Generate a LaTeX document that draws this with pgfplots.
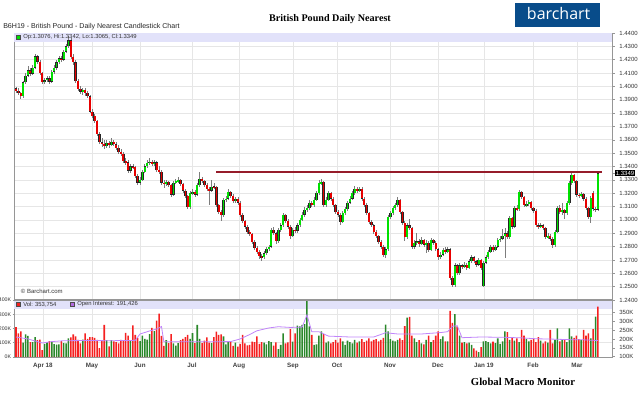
\documentclass[border=0pt]{standalone}
\usepackage{pgfplots}
\pgfplotsset{compat=1.18}
\usepackage{pgfplotstable}
\usepackage{fontspec}
\setmainfont{Liberation Sans}
\newfontfamily\serifb{Liberation Serif}
\newfontfamily\logof{Open Sans}
\definecolor{upg}{RGB}{0,225,0}
\definecolor{dnr}{RGB}{232,0,0}
\definecolor{wick}{RGB}{125,125,125}
\definecolor{vgreen}{RGB}{42,135,42}
\definecolor{vred}{RGB}{245,32,32}
\definecolor{band}{RGB}{226,226,250}
\definecolor{oi}{RGB}{192,132,250}
\definecolor{res}{RGB}{150,28,42}
\definecolor{logo}{RGB}{8,76,138}
\definecolor{gridc}{RGB}{230,230,230}
\definecolor{axc}{RGB}{150,150,150}
\newcommand\tl{\fontsize{4.5}{5}\selectfont}

\pgfplotstableread{
i o h l c u v w
0 1.3985 1.3995 1.3950 1.3965 0 210 0
1 1.3965 1.3985 1.3935 1.3950 0 165 0
2 1.3950 1.3960 1.3905 1.3925 0 180 0
3 1.3925 1.4040 1.3915 1.4030 1 100 1
4 1.4030 1.4100 1.4015 1.4080 1 158 1
5 1.4080 1.4150 1.4070 1.4120 1 148 1
6 1.4120 1.4135 1.4080 1.4095 0 105 0
7 1.4095 1.4160 1.4085 1.4140 1 105 1
8 1.4140 1.4240 1.4130 1.4225 1 140 1
9 1.4225 1.4235 1.4170 1.4185 0 118 0
10 1.4185 1.4195 1.4085 1.4100 0 122 0
11 1.4100 1.4110 1.4015 1.4030 0 48 0
12 1.4030 1.4065 1.4015 1.4045 1 92 1
13 1.4045 1.4080 1.4030 1.4060 1 102 1
14 1.4060 1.4075 1.4020 1.4035 0 112 0
15 1.4035 1.4125 1.4025 1.4110 1 108 1
16 1.4110 1.4160 1.4095 1.4140 1 90 1
17 1.4140 1.4195 1.4125 1.4180 1 86 1
18 1.4180 1.4230 1.4170 1.4210 1 88 1
19 1.4210 1.4225 1.4185 1.4200 0 112 0
20 1.4200 1.4275 1.4190 1.4260 1 98 1
21 1.4260 1.4320 1.4250 1.4300 1 96 1
22 1.4300 1.4375 1.4290 1.4345 1 130 1
23 1.4345 1.4360 1.4205 1.4220 0 138 0
24 1.4220 1.4240 1.4160 1.4180 0 158 0
25 1.4180 1.4195 1.4025 1.4040 0 145 0
26 1.4040 1.4055 1.3965 1.3980 0 120 0
27 1.3980 1.4000 1.3945 1.3960 0 95 0
28 1.3960 1.3990 1.3935 1.3975 1 122 1
29 1.3975 1.3985 1.3930 1.3950 0 165 0
30 1.3950 1.3965 1.3910 1.3925 0 128 0
31 1.3925 1.3935 1.3800 1.3810 0 140 0
32 1.3810 1.3830 1.3765 1.3780 0 140 0
33 1.3780 1.3795 1.3725 1.3740 0 135 0
34 1.3740 1.3750 1.3625 1.3640 0 120 0
35 1.3640 1.3660 1.3565 1.3580 0 62 0
36 1.3580 1.3610 1.3545 1.3570 0 118 0
37 1.3570 1.3595 1.3530 1.3555 0 225 0
38 1.3555 1.3600 1.3540 1.3575 1 118 1
39 1.3575 1.3590 1.3535 1.3560 0 75 0
40 1.3560 1.3615 1.3550 1.3585 1 118 1
41 1.3585 1.3600 1.3550 1.3565 0 110 0
42 1.3565 1.3580 1.3520 1.3540 0 105 0
43 1.3540 1.3560 1.3495 1.3510 0 95 0
44 1.3510 1.3530 1.3475 1.3495 0 120 0
45 1.3495 1.3505 1.3425 1.3440 0 115 0
46 1.3440 1.3465 1.3410 1.3430 0 170 0
47 1.3430 1.3445 1.3355 1.3370 0 150 0
48 1.3370 1.3415 1.3350 1.3400 1 118 1
49 1.3400 1.3420 1.3380 1.3395 0 222 0
50 1.3395 1.3405 1.3315 1.3330 0 155 0
51 1.3330 1.3345 1.3260 1.3280 0 135 0
52 1.3280 1.3320 1.3265 1.3300 1 112 1
53 1.3300 1.3375 1.3290 1.3360 1 150 1
54 1.3360 1.3420 1.3350 1.3400 1 128 1
55 1.3400 1.3450 1.3390 1.3425 1 122 1
56 1.3425 1.3465 1.3410 1.3435 1 160 1
57 1.3435 1.3450 1.3405 1.3420 0 205 0
58 1.3420 1.3445 1.3400 1.3430 1 182 1
59 1.3430 1.3440 1.3360 1.3375 0 255 0
60 1.3375 1.3400 1.3345 1.3360 0 305 0
61 1.3360 1.3375 1.3265 1.3280 0 148 0
62 1.3280 1.3300 1.3240 1.3270 0 78 0
63 1.3270 1.3300 1.3255 1.3285 1 118 1
64 1.3285 1.3295 1.3245 1.3260 0 98 0
65 1.3260 1.3270 1.3175 1.3190 0 160 0
66 1.3190 1.3295 1.3180 1.3280 1 96 1
67 1.3280 1.3310 1.3270 1.3290 1 80 1
68 1.3290 1.3320 1.3280 1.3300 1 98 1
69 1.3300 1.3310 1.3255 1.3270 0 118 0
70 1.3270 1.3280 1.3205 1.3220 0 128 0
71 1.3220 1.3235 1.3165 1.3180 0 140 0
72 1.3180 1.3190 1.3080 1.3095 0 155 0
73 1.3095 1.3215 1.3085 1.3200 1 128 1
74 1.3200 1.3230 1.3185 1.3210 1 168 1
75 1.3210 1.3225 1.3175 1.3190 0 98 0
76 1.3190 1.3275 1.3180 1.3260 1 225 1
77 1.3260 1.3362 1.3250 1.3310 1 128 1
78 1.3310 1.3325 1.3275 1.3290 0 98 0
79 1.3290 1.3300 1.3245 1.3260 0 115 0
80 1.3260 1.3275 1.3215 1.3230 0 138 0
81 1.3230 1.3245 1.3110 1.3220 0 100 0
82 1.3220 1.3300 1.3210 1.3250 1 98 1
83 1.3250 1.3275 1.3230 1.3245 0 140 0
84 1.3245 1.3255 1.3095 1.3110 0 178 0
85 1.3110 1.3120 1.3045 1.3060 0 155 0
86 1.3060 1.3075 1.2990 1.3035 0 158 0
87 1.3035 1.3165 1.3025 1.3150 1 145 1
88 1.3150 1.3180 1.3135 1.3160 1 88 1
89 1.3160 1.3230 1.3150 1.3210 1 105 1
90 1.3210 1.3220 1.3165 1.3180 0 105 0
91 1.3180 1.3195 1.3125 1.3140 0 78 0
92 1.3140 1.3175 1.3125 1.3160 1 100 1
93 1.3160 1.3170 1.3115 1.3130 0 72 0
94 1.3130 1.3140 1.3020 1.3035 0 92 0
95 1.3035 1.3050 1.2975 1.2990 0 155 0
96 1.2990 1.3000 1.2935 1.2950 0 95 0
97 1.2950 1.2965 1.2895 1.2910 0 82 0
98 1.2910 1.2925 1.2880 1.2895 0 85 0
99 1.2895 1.2905 1.2820 1.2835 0 108 0
100 1.2835 1.2850 1.2775 1.2790 0 105 0
101 1.2790 1.2805 1.2745 1.2760 0 145 0
102 1.2760 1.2775 1.2710 1.2730 0 92 0
103 1.2730 1.2745 1.2690 1.2720 0 105 0
104 1.2720 1.2765 1.2705 1.2750 1 100 1
105 1.2750 1.2800 1.2735 1.2785 1 88 1
106 1.2785 1.2815 1.2770 1.2800 1 112 1
107 1.2800 1.2940 1.2790 1.2925 1 105 1
108 1.2925 1.2945 1.2885 1.2900 0 80 0
109 1.2900 1.2910 1.2820 1.2840 0 102 0
110 1.2840 1.2940 1.2830 1.2925 1 55 1
111 1.2925 1.2975 1.2910 1.2960 1 85 1
112 1.2960 1.3050 1.2950 1.3035 1 165 1
113 1.3035 1.3045 1.2975 1.2990 0 95 0
114 1.2990 1.3005 1.2935 1.2950 0 102 0
115 1.2950 1.2960 1.2860 1.2880 0 195 0
116 1.2880 1.2940 1.2870 1.2925 1 108 1
117 1.2925 1.2945 1.2900 1.2920 0 165 0
118 1.2920 1.2975 1.2905 1.2960 1 220 1
119 1.2960 1.3015 1.2950 1.3000 1 215 1
120 1.3000 1.3060 1.2990 1.3040 1 225 1
121 1.3040 1.3095 1.3025 1.3075 1 230 1
122 1.3075 1.3110 1.3060 1.3090 1 395 1
123 1.3090 1.3150 1.3075 1.3130 1 215 1
124 1.3130 1.3145 1.3095 1.3110 0 155 0
125 1.3110 1.3170 1.3100 1.3150 1 85 1
126 1.3150 1.3215 1.3140 1.3200 1 88 1
127 1.3200 1.3298 1.3190 1.3280 1 150 1
128 1.3270 1.3305 1.3260 1.3285 1 180 1
129 1.3285 1.3295 1.3095 1.3110 0 160 0
130 1.3110 1.3170 1.3100 1.3150 1 100 1
131 1.3150 1.3215 1.3140 1.3200 1 110 1
132 1.3200 1.3210 1.3145 1.3160 0 95 0
133 1.3160 1.3170 1.3095 1.3110 0 105 0
134 1.3110 1.3120 1.3045 1.3060 0 120 0
135 1.3060 1.3075 1.3025 1.3040 0 100 0
136 1.3040 1.3050 1.2965 1.2985 0 130 0
137 1.2985 1.3065 1.2975 1.3050 1 110 1
138 1.3050 1.3095 1.3040 1.3080 1 85 1
139 1.3080 1.3145 1.3070 1.3130 1 115 1
140 1.3130 1.3180 1.3120 1.3160 1 105 1
141 1.3160 1.3215 1.3150 1.3200 1 95 1
142 1.3200 1.3255 1.3190 1.3235 1 120 1
143 1.3235 1.3250 1.3205 1.3220 0 100 0
144 1.3220 1.3250 1.3210 1.3235 1 110 1
145 1.3235 1.3245 1.3145 1.3160 0 125 0
146 1.3160 1.3175 1.3095 1.3110 0 105 0
147 1.3110 1.3125 1.3035 1.3050 0 115 0
148 1.3050 1.3060 1.2970 1.2985 0 130 0
149 1.2985 1.3000 1.2945 1.2960 0 110 0
150 1.2960 1.2970 1.2895 1.2910 0 120 0
151 1.2910 1.2925 1.2865 1.2880 0 125 0
152 1.2880 1.2890 1.2820 1.2835 0 110 0
153 1.2835 1.2850 1.2785 1.2800 0 120 0
154 1.2800 1.2815 1.2720 1.2735 0 135 0
155 1.2735 1.2795 1.2715 1.2780 1 228 1
156 1.2780 1.3035 1.2770 1.3020 1 180 1
157 1.3020 1.3070 1.3005 1.3050 1 125 1
158 1.3050 1.3105 1.3035 1.3090 1 115 1
159 1.3090 1.3130 1.3075 1.3110 1 110 1
160 1.3110 1.3170 1.3095 1.3150 1 120 1
161 1.3150 1.3160 1.3045 1.3060 0 130 0
162 1.3060 1.3070 1.2965 1.2980 0 118 0
163 1.2980 1.2990 1.2840 1.2870 0 216 0
164 1.2870 1.2975 1.2860 1.2960 1 277 1
165 1.2960 1.3005 1.2925 1.2940 0 282 0
166 1.2940 1.2950 1.2785 1.2800 0 150 0
167 1.2800 1.2850 1.2785 1.2830 1 130 1
168 1.2830 1.2900 1.2815 1.2840 1 105 1
169 1.2840 1.2855 1.2800 1.2820 0 118 0
170 1.2820 1.2870 1.2810 1.2850 1 95 1
171 1.2850 1.2860 1.2800 1.2815 0 88 0
172 1.2815 1.2850 1.2750 1.2830 1 120 1
173 1.2830 1.2840 1.2760 1.2775 0 150 0
174 1.2775 1.2865 1.2765 1.2850 1 105 1
175 1.2850 1.2860 1.2815 1.2830 0 118 0
176 1.2830 1.2845 1.2765 1.2780 0 150 0
177 1.2780 1.2790 1.2700 1.2720 0 180 0
178 1.2720 1.2760 1.2705 1.2740 1 125 1
179 1.2740 1.2790 1.2730 1.2775 1 145 1
180 1.2775 1.2800 1.2745 1.2760 0 110 0
181 1.2760 1.2795 1.2750 1.2780 1 110 1
182 1.2780 1.2790 1.2550 1.2565 0 323 0
183 1.2565 1.2580 1.2495 1.2510 0 240 0
184 1.2510 1.2675 1.2500 1.2660 1 300 1
185 1.2660 1.2670 1.2585 1.2600 0 215 0
186 1.2600 1.2675 1.2590 1.2660 1 150 1
187 1.2660 1.2670 1.2635 1.2650 0 100 0
188 1.2650 1.2685 1.2640 1.2665 1 105 1
189 1.2665 1.2675 1.2625 1.2640 0 95 0
190 1.2640 1.2705 1.2630 1.2690 1 100 1
191 1.2690 1.2735 1.2680 1.2720 1 85 1
192 1.2720 1.2730 1.2675 1.2690 0 60 0
193 1.2690 1.2700 1.2650 1.2665 0 45 0
194 1.2665 1.2715 1.2655 1.2700 1 35 1
195 1.2700 1.2710 1.2625 1.2640 0 70 0
196 1.2505 1.2695 1.2497 1.2680 1 110 1
197 1.2680 1.2735 1.2670 1.2720 1 112 1
198 1.2720 1.2775 1.2710 1.2760 1 105 1
199 1.2760 1.2815 1.2750 1.2800 1 95 1
200 1.2800 1.2810 1.2760 1.2775 0 108 0
201 1.2775 1.2815 1.2765 1.2800 1 98 1
202 1.2800 1.2865 1.2790 1.2850 1 130 1
203 1.2850 1.2880 1.2835 1.2860 1 92 1
204 1.2860 1.2930 1.2850 1.2880 1 110 1
205 1.2880 1.2940 1.2715 1.2900 1 180 1
206 1.2900 1.2920 1.2855 1.2870 0 175 0
207 1.2870 1.3030 1.2860 1.3015 1 120 1
208 1.3015 1.3025 1.2935 1.2950 0 140 0
209 1.2950 1.3105 1.2940 1.3090 1 115 1
210 1.3090 1.3110 1.3065 1.3080 0 130 0
211 1.3080 1.3225 1.3070 1.3210 1 105 1
212 1.3210 1.3220 1.3155 1.3170 0 190 0
213 1.3170 1.3180 1.3095 1.3110 0 150 0
214 1.3110 1.3140 1.3100 1.3120 1 125 1
215 1.3120 1.3150 1.3105 1.3135 1 110 1
216 1.3135 1.3145 1.3075 1.3090 0 120 0
217 1.3090 1.3100 1.3055 1.3070 0 130 0
218 1.3070 1.3080 1.2945 1.2960 0 105 0
219 1.2960 1.2975 1.2935 1.2950 0 140 0
220 1.2950 1.2975 1.2940 1.2960 1 115 1
221 1.2960 1.2970 1.2925 1.2940 0 95 0
222 1.2940 1.2950 1.2855 1.2870 0 110 0
223 1.2870 1.2900 1.2860 1.2880 1 100 1
224 1.2880 1.2895 1.2845 1.2860 0 190 0
225 1.2860 1.2870 1.2790 1.2810 0 95 0
226 1.2810 1.2925 1.2800 1.2910 1 120 1
227 1.2910 1.3105 1.2900 1.3090 1 200 1
228 1.3090 1.3115 1.3045 1.3060 0 110 0
229 1.3060 1.3130 1.3040 1.3075 1 125 1
230 1.3075 1.3085 1.3010 1.3050 0 118 0
231 1.3050 1.3145 1.3040 1.3127 1 105 1
232 1.3127 1.3290 1.3115 1.3276 1 200 1
233 1.3276 1.3352 1.3265 1.3336 1 145 1
234 1.3336 1.3345 1.3275 1.3290 0 135 0
235 1.3290 1.3300 1.3175 1.3190 0 150 0
236 1.3190 1.3205 1.3165 1.3180 0 125 0
237 1.3180 1.3210 1.3170 1.3195 1 120 1
238 1.3195 1.3205 1.3145 1.3160 0 190 0
239 1.3160 1.3170 1.3075 1.3090 0 150 0
240 1.3090 1.3100 1.3005 1.3020 0 165 0
241 1.3020 1.3180 1.2980 1.3165 1 130 1
242 1.3200 1.3215 1.3070 1.3085 0 195 0
243 1.3085 1.3100 1.3060 1.3076 0 283 1
244 1.3076 1.3352 1.3065 1.3349 1 354 0
}\candles

\pgfplotstableread{
i k
0 211
5 200
11 177
15 185
20 190
30 191
40 190
50 192
52 228
56 245
59 256
61 270
62 184
70 184
80 184
90 185
94 200
98 225
101 246
106 262
110 269
115 265
120 267
122 336
124 241
127 241
131 216
140 211
150 211
155 235
160 228
170 228
178 236
181 241
183 272
185 275
187 207
195 211
205 209
212 206
218 201
225 199
232 196
238 195
244 191
}\oit

\pgfplotsset{
  /pgf/number format/assume math mode=true,
  candle/.style={only marks, mark=none, mark size=0pt, forget plot,
    error bars/.cd, y dir=both, y explicit, error mark=none, error mark options={scale=0, draw=none, fill=none}},
  panel/.style={scale only axis, anchor=south west, width=448.5pt, xmin=-0.84, xmax=249.9,
    xtick={11.3,31.9,52.0,73.8,93.5,116.1,134.6,156.8,176.9,196.2,216.8,235.2},
    axis line style={axc}, tick style={axc, line width=0.4pt}, tick align=outside,
    major tick length=2pt, tick label style={font=\tl, text=black!80},
    grid=major, major grid style={gridc, line width=0.5pt}},
}

\begin{document}
\begin{tikzpicture}
\path[use as bounding box] (0,0) rectangle (480pt,297pt);

% upper price panel
\begin{axis}[panel, at={(10.5pt,72pt)}, height=200.25pt,
  ymin=1.24, ymax=1.44, ytick distance=0.01,
  xticklabels={}, xtick style={draw=none},
  ytick pos=right, yticklabel pos=right,
  yticklabel style={/pgf/number format/fixed, /pgf/number format/fixed zerofill, /pgf/number format/precision=4},
  extra y ticks={1.3349},
  extra y tick style={grid=none, yticklabel style={fill=black, text=white, inner sep=0.7pt}},
]
\fill[band] (rel axis cs:0,1) rectangle (rel axis cs:1,{1-9/267});
% wicks
\addplot[candle, error bar style={line width=0.45pt, wick}]
  table[x=i, y expr={0.5*(\thisrow{h}+\thisrow{l})}, y error expr={0.5*(\thisrow{h}-\thisrow{l})}] {\candles};
% body outlines
\addplot[candle, error bar style={line width=1.85pt, black!85}]
  table[x=i, y expr={0.5*(\thisrow{o}+\thisrow{c})}, y error expr={max(0.5*abs(\thisrow{c}-\thisrow{o}),0.0003)}] {\candles};
% green bodies (u = 1)
\addplot[candle, error bar style={line width=1.25pt, upg}]
  table[x=i, y expr={0.5*(\thisrow{o}+\thisrow{c})}, y error expr={\thisrow{u}*max(0.5*abs(\thisrow{c}-\thisrow{o})-0.0002,0.0001)}] {\candles};
% red bodies (u = 0)
\addplot[candle, error bar style={line width=1.25pt, dnr}]
  table[x=i, y expr={0.5*(\thisrow{o}+\thisrow{c})}, y error expr={(1-\thisrow{u})*max(0.5*abs(\thisrow{c}-\thisrow{o})-0.0002,0.0001)}] {\candles};
\addplot[res, line width=1.4pt, forget plot] coordinates {(83.9,1.3358) (245.7,1.3358)};
\end{axis}

% volume panel
\begin{axis}[panel, at={(10.5pt,29.25pt)}, height=42.75pt,
  ymin=0, ymax=400, ytick={0,100,200,300,400}, ytick pos=left,
  yticklabel={\pgfmathprintnumber{\tick}K},
  yticklabel style={inner sep=0pt, font=\fontsize{3.9}{4.5}\selectfont},
  ytick style={/pgfplots/major tick length=1pt},
  xtick style={draw=none},
  xticklabels={Apr 18,May,Jun,Jul,Aug,Sep,Oct,Nov,Dec,Jan 19,Feb,Mar},
  xticklabel style={font=\bfseries\fontsize{4.7}{5}\selectfont, text=black!75, yshift=1pt},
]
\fill[band] (rel axis cs:0,1) rectangle (rel axis cs:1,{1-9/57});
\addplot[ybar, bar width=1.15pt, bar shift=0pt, fill=vgreen, draw=none, forget plot]
  table[x=i, y expr={\thisrow{w}*\thisrow{v}}] {\candles};
\addplot[ybar, bar width=1.15pt, bar shift=0pt, fill=vred, draw=none, forget plot]
  table[x=i, y expr={(1-\thisrow{w})*\thisrow{v}}] {\candles};
\end{axis}

% open interest overlay
\begin{axis}[scale only axis, anchor=south west, at={(10.5pt,29.25pt)}, width=448.5pt, height=42.75pt,
  xmin=-0.84, xmax=249.9, ymin=98, ymax=420,
  axis x line=none, axis y line*=right, axis line style={axc},
  ytick={100,150,200,250,300,350}, yticklabel={\pgfmathprintnumber{\tick}K},
  tick style={axc, line width=0.4pt}, tick align=outside, major tick length=2pt,
  tick label style={font=\tl, text=black!80}]
\addplot[oi, line width=0.6pt, forget plot] table[x=i, y=k] {\oit};
\end{axis}

\draw[axc, line width=1pt] (10.5pt,72pt) -- (459pt,72pt);

% texts
\node[anchor=west, inner sep=0pt, font=\fontsize{5.3}{6}\selectfont, text=black!85] at (2.25pt,277pt) {B6H19 - British Pound - Daily Nearest Candlestick Chart};
\node[inner sep=0pt, font=\serifb\bfseries\fontsize{7.6}{9}\selectfont] at (247.5pt,282.5pt) {British Pound Daily Nearest};
\fill[logo] (386.25pt,276.75pt) rectangle (450pt,294.75pt);
\node[inner sep=0pt, text=white, font=\logof\fontsize{12}{13}\selectfont] at (419pt,286.5pt) {barchart};
\fill[upg, draw=black!70, line width=0.3pt] (12.4pt,267.4pt) rectangle (15.4pt,270.4pt);
\node[anchor=west, inner sep=0pt, font=\fontsize{4.4}{5}\selectfont, text=black!80] at (17.25pt,268.9pt) {Op:1.3076, Hi:1.3342, Lo:1.3065, Cl:1.3349};
\fill[vred, draw=black!70, line width=0.3pt] (12.4pt,67.1pt) rectangle (15.4pt,70.1pt);
\node[anchor=west, inner sep=0pt, font=\fontsize{4.4}{5}\selectfont, text=black!80] at (17.25pt,68.6pt) {Vol: 353,754};
\fill[oi!80!violet, draw=black!70, line width=0.3pt] (52.5pt,67.1pt) rectangle (55.5pt,70.1pt);
\node[anchor=west, inner sep=0pt, font=\fontsize{4.4}{5}\selectfont, text=black!80] at (57.75pt,68.6pt) {Open Interest: 191,426};
\node[anchor=west, inner sep=0pt, font=\fontsize{4.5}{5}\selectfont, text=black!80] at (15.5pt,78.4pt) {\textcopyright{} Barchart.com};
\node[inner sep=0pt, font=\serifb\bfseries\fontsize{8}{9}\selectfont] at (392.25pt,10.9pt) {Global Macro Monitor};
\end{tikzpicture}
\end{document}
